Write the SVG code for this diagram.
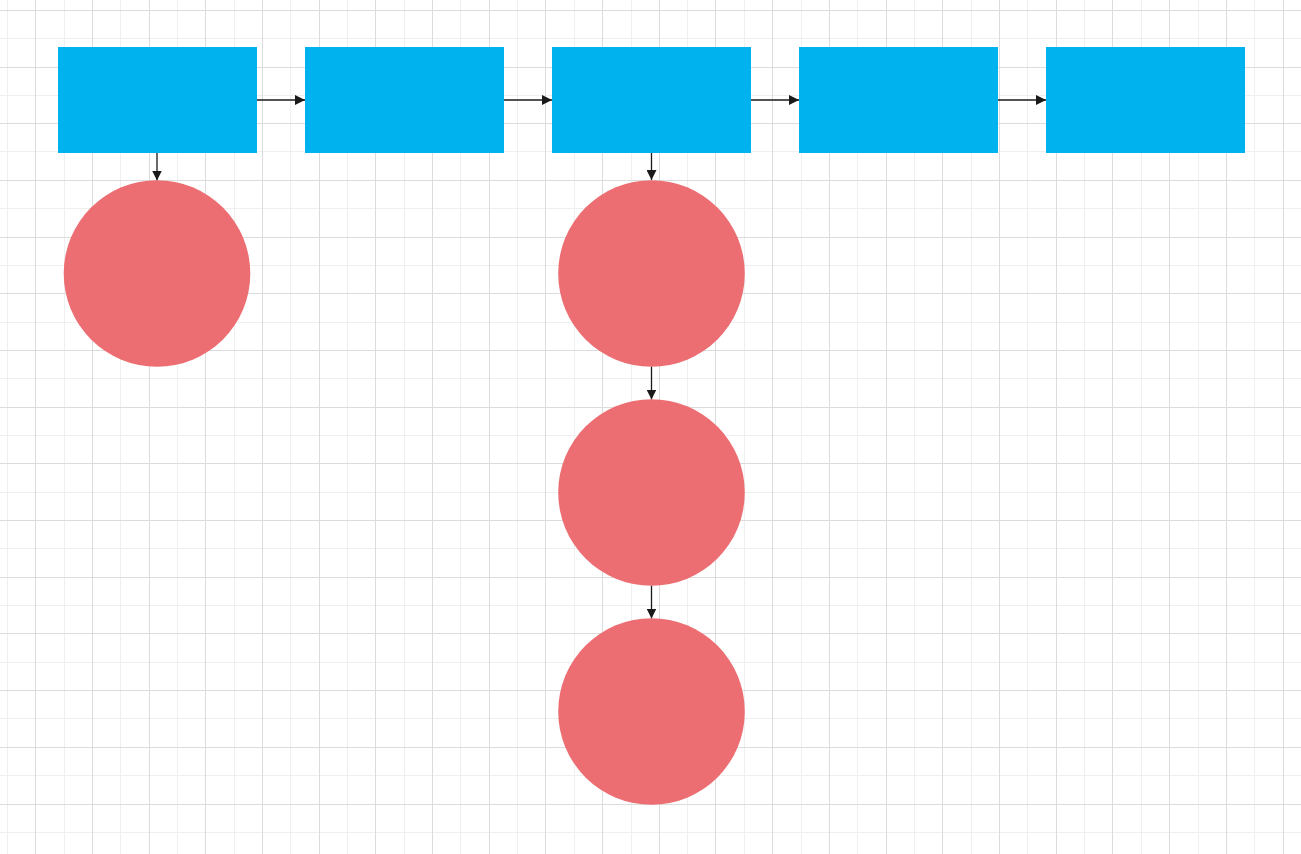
<svg xmlns="http://www.w3.org/2000/svg" width="1301" height="854" viewBox="0 0 1301 854">
<style>
.minor{stroke:#efefef;stroke-width:1;fill:none}
.major{stroke:#dcdcdc;stroke-width:1;fill:none}
.box{fill:#00b2ee}
.circ{fill:#ec6e72}
.edge{stroke:#1a1a1a;stroke-width:1.3;fill:none;marker-end:url(#arr)}
</style>
<defs>
<marker id="arr" markerUnits="userSpaceOnUse" markerWidth="10" markerHeight="10" refX="10" refY="5" orient="auto" viewBox="0 0 10 10">
<path d="M0,0 L10,5 L0,10 z" fill="#1a1a1a"/>
</marker>
</defs>
<rect x="0" y="0" width="1301" height="854" fill="#ffffff"/>
<g id="grid">
<path class="minor" d="M7.5,0V854M64.5,0V854M120.5,0V854M177.5,0V854M234.5,0V854M290.5,0V854M347.5,0V854M404.5,0V854M460.5,0V854M517.5,0V854M574.5,0V854M631.5,0V854M687.5,0V854M744.5,0V854M801.5,0V854M857.5,0V854M914.5,0V854M971.5,0V854M1027.5,0V854M1084.5,0V854M1141.5,0V854M1198.5,0V854M1254.5,0V854M0,38.5H1301M0,95.5H1301M0,151.5H1301M0,208.5H1301M0,265.5H1301M0,322.5H1301M0,378.5H1301M0,435.5H1301M0,492.5H1301M0,548.5H1301M0,605.5H1301M0,662.5H1301M0,718.5H1301M0,775.5H1301M0,832.5H1301"/>
<path class="major" d="M35.5,0V854M92.5,0V854M149.5,0V854M205.5,0V854M262.5,0V854M319.5,0V854M375.5,0V854M432.5,0V854M489.5,0V854M545.5,0V854M602.5,0V854M659.5,0V854M715.5,0V854M772.5,0V854M829.5,0V854M886.5,0V854M942.5,0V854M999.5,0V854M1056.5,0V854M1112.5,0V854M1169.5,0V854M1226.5,0V854M1283.5,0V854M0,10.5H1301M0,67.5H1301M0,123.5H1301M0,180.5H1301M0,237.5H1301M0,293.5H1301M0,350.5H1301M0,407.5H1301M0,463.5H1301M0,520.5H1301M0,577.5H1301M0,633.5H1301M0,690.5H1301M0,747.5H1301M0,804.5H1301"/>
</g>
<g id="connectors">
<path class="edge" d="M257,100H305"/>
<path class="edge" d="M504,100H552"/>
<path class="edge" d="M751,100H799"/>
<path class="edge" d="M998,100H1046"/>
<path class="edge" d="M157,153V180.5"/>
<path class="edge" d="M651.5,153V180"/>
<path class="edge" d="M651.5,366.5V399.5"/>
<path class="edge" d="M651.5,585.5V618.5"/>
</g>
<g id="box1"><rect class="box" x="58" y="47" width="199" height="106"/></g>
<g id="box2"><rect class="box" x="305" y="47" width="199" height="106"/></g>
<g id="box3"><rect class="box" x="552" y="47" width="199" height="106"/></g>
<g id="box4"><rect class="box" x="799" y="47" width="199" height="106"/></g>
<g id="box5"><rect class="box" x="1046" y="47" width="199" height="106"/></g>
<g id="circle1"><circle class="circ" cx="157" cy="273.5" r="93.3"/></g>
<g id="circle2"><circle class="circ" cx="651.5" cy="273.5" r="93.3"/></g>
<g id="circle3"><circle class="circ" cx="651.5" cy="492.5" r="93.3"/></g>
<g id="circle4"><circle class="circ" cx="651.5" cy="711.5" r="93.3"/></g>
</svg>
